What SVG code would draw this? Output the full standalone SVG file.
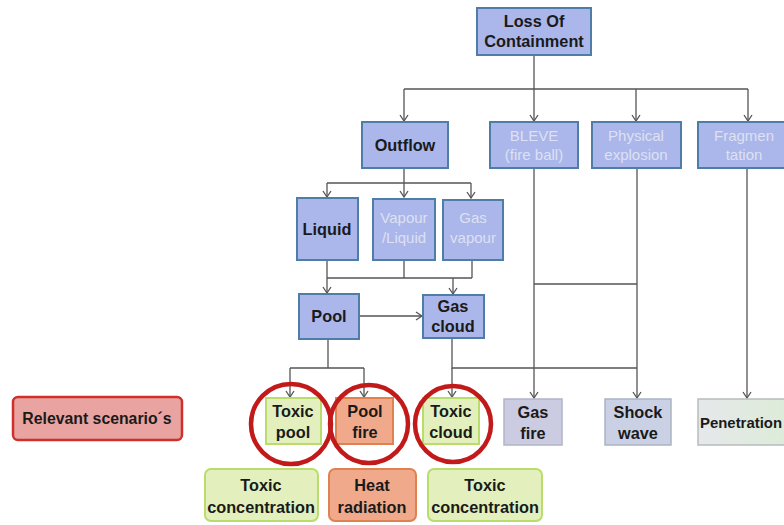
<svg xmlns="http://www.w3.org/2000/svg" width="784" height="525" viewBox="0 0 784 525">
<defs>
<marker id="arr" markerWidth="10" markerHeight="10" refX="9" refY="5" orient="auto" markerUnits="userSpaceOnUse" viewBox="0 0 10 10">
<path d="M3,1 L9,5 L3,9" fill="none" stroke="#555" stroke-width="1.3"/>
</marker>
<linearGradient id="pen" x1="0" y1="0" x2="1" y2="0">
<stop offset="0" stop-color="#e6e8ea"/><stop offset="1" stop-color="#dcecd8"/>
</linearGradient>
</defs>
<style>
.blue{fill:#abb6ea;stroke:#4e7ea8;stroke-width:2}
.t{font-family:"Liberation Sans",Arial,sans-serif;font-weight:bold;font-size:16.3px;fill:#1a1a1a;text-anchor:middle}
.f{font-family:"Liberation Sans",Arial,sans-serif;font-size:15px;fill:#dde1f2;text-anchor:middle}
.c{fill:none;stroke:#555;stroke-width:1.3}
.ring{fill:none;stroke:#c21a1a;stroke-width:4.5}
.green{fill:#e3f0bd;stroke:#b9dc6c;stroke-width:2}
.orange{fill:#f0a98b;stroke:#e0824f;stroke-width:2}
</style>
<rect width="784" height="525" fill="#ffffff"/>

<g id="connectors">
<path class="c" d="M534,56 V89 M404,89 H748"/>
<line class="c" x1="404" y1="89" x2="404" y2="121" marker-end="url(#arr)"/>
<line class="c" x1="534" y1="89" x2="534" y2="121" marker-end="url(#arr)"/>
<line class="c" x1="636" y1="89" x2="636" y2="121" marker-end="url(#arr)"/>
<line class="c" x1="748" y1="89" x2="748" y2="121" marker-end="url(#arr)"/>
<path class="c" d="M404,168 V183 M327,183 H471"/>
<line class="c" x1="327" y1="183" x2="327" y2="197" marker-end="url(#arr)"/>
<line class="c" x1="404" y1="183" x2="404" y2="197" marker-end="url(#arr)"/>
<line class="c" x1="471" y1="183" x2="471" y2="198" marker-end="url(#arr)"/>
<path class="c" d="M327,260 V278 M404,260 V278 M472,260 V278 M327,278 H472"/>
<line class="c" x1="327" y1="278" x2="327" y2="293" marker-end="url(#arr)"/>
<line class="c" x1="453" y1="278" x2="453" y2="294" marker-end="url(#arr)"/>
<line class="c" x1="359" y1="316" x2="422" y2="316" marker-end="url(#arr)"/>
<path class="c" d="M328,339 V368 M290,368 H364"/>
<line class="c" x1="290" y1="368" x2="290" y2="397" marker-end="url(#arr)"/>
<line class="c" x1="364" y1="368" x2="364" y2="397" marker-end="url(#arr)"/>
<path class="c" d="M452,338 V368 H637"/>
<line class="c" x1="452" y1="368" x2="452" y2="397" marker-end="url(#arr)"/>
<path class="c" d="M534,284 H637"/>
<line class="c" x1="534" y1="168" x2="534" y2="398" marker-end="url(#arr)"/>
<line class="c" x1="637" y1="168" x2="637" y2="398" marker-end="url(#arr)"/>
<line class="c" x1="747" y1="168" x2="747" y2="398" marker-end="url(#arr)"/>
</g>

<g id="loss-of-containment">
<rect class="blue" x="477" y="8" width="114" height="47"/>
<text class="t" x="534" y="27">Loss Of</text>
<text class="t" x="534" y="47">Containment</text>
</g>
<g id="outflow">
<rect class="blue" x="362" y="122" width="86" height="46"/>
<text class="t" x="405" y="151">Outflow</text>
</g>
<g id="bleve">
<rect class="blue" x="490" y="122" width="88" height="46"/>
<text class="f" x="534" y="141">BLEVE</text>
<text class="f" x="534" y="160">(fire ball)</text>
</g>
<g id="physical-explosion">
<rect class="blue" x="592" y="122" width="89" height="46"/>
<text class="f" x="636" y="141">Physical</text>
<text class="f" x="636" y="160">explosion</text>
</g>
<g id="fragmentation">
<rect class="blue" x="698" y="122" width="92" height="46"/>
<text class="f" x="744" y="141">Fragmen</text>
<text class="f" x="744" y="160">tation</text>
</g>
<g id="liquid">
<rect class="blue" x="297" y="198" width="61" height="62"/>
<text class="t" x="327" y="235">Liquid</text>
</g>
<g id="vapour-liquid">
<rect class="blue" x="373" y="199" width="62" height="61"/>
<text class="f" x="404" y="223">Vapour</text>
<text class="f" x="404" y="243">/Liquid</text>
</g>
<g id="gas-vapour">
<rect class="blue" x="443" y="200" width="60" height="60"/>
<text class="f" x="473" y="223">Gas</text>
<text class="f" x="473" y="243">vapour</text>
</g>
<g id="pool">
<rect class="blue" x="299" y="294" width="60" height="45"/>
<text class="t" x="329" y="322">Pool</text>
</g>
<g id="gas-cloud">
<rect class="blue" x="423" y="295" width="61" height="43"/>
<text class="t" x="453" y="312">Gas</text>
<text class="t" x="453" y="332">cloud</text>
</g>

<g id="relevant-scenarios">
<rect x="13" y="397" width="169" height="43" rx="5" fill="#e9a3a0" stroke="#d0302c" stroke-width="2.5"/>
<text class="t" x="97" y="424" style="font-size:15.8px">Relevant scenario´s</text>
</g>
<g id="toxic-pool">
<rect class="green" x="266" y="398" width="55" height="46"/>
<text class="t" x="293" y="417">Toxic</text>
<text class="t" x="293" y="438">pool</text>
</g>
<g id="pool-fire">
<rect class="orange" x="336" y="398" width="57" height="46"/>
<text class="t" x="365" y="417">Pool</text>
<text class="t" x="365" y="438">fire</text>
</g>
<g id="toxic-cloud">
<rect class="green" x="423" y="398" width="56" height="46"/>
<text class="t" x="451" y="417">Toxic</text>
<text class="t" x="451" y="438">cloud</text>
</g>
<g id="gas-fire">
<rect x="504" y="399" width="58" height="46" fill="#cbcbe2" stroke="#b2b4c8" stroke-width="1.5"/>
<text class="t" x="533" y="418">Gas</text>
<text class="t" x="533" y="439">fire</text>
</g>
<g id="shock-wave">
<rect x="605" y="399" width="66" height="46" fill="#cbd1e4" stroke="#aab2c4" stroke-width="1.5"/>
<text class="t" x="638" y="418">Shock</text>
<text class="t" x="638" y="439">wave</text>
</g>
<g id="penetration">
<rect x="698" y="399" width="92" height="46" fill="url(#pen)" stroke="#b6bcbc" stroke-width="1.5"/>
<text class="t" x="700" y="428" style="text-anchor:start;font-size:15.5px" textLength="82" lengthAdjust="spacingAndGlyphs">Penetration</text>
</g>

<g id="scenario-rings">
<circle class="ring" cx="291" cy="424" r="40"/>
<circle class="ring" cx="369" cy="424" r="39"/>
<circle class="ring" cx="453" cy="424" r="38"/>
</g>

<g id="toxic-concentration-1">
<rect class="green" x="205" y="469" width="113" height="52" rx="6"/>
<text class="t" x="261" y="491">Toxic</text>
<text class="t" x="261" y="513">concentration</text>
</g>
<g id="heat-radiation">
<rect class="orange" x="329" y="469" width="87" height="52" rx="6"/>
<text class="t" x="372" y="491">Heat</text>
<text class="t" x="372" y="513">radiation</text>
</g>
<g id="toxic-concentration-2">
<rect class="green" x="428" y="469" width="114" height="52" rx="6"/>
<text class="t" x="485" y="491">Toxic</text>
<text class="t" x="485" y="513">concentration</text>
</g>
</svg>
